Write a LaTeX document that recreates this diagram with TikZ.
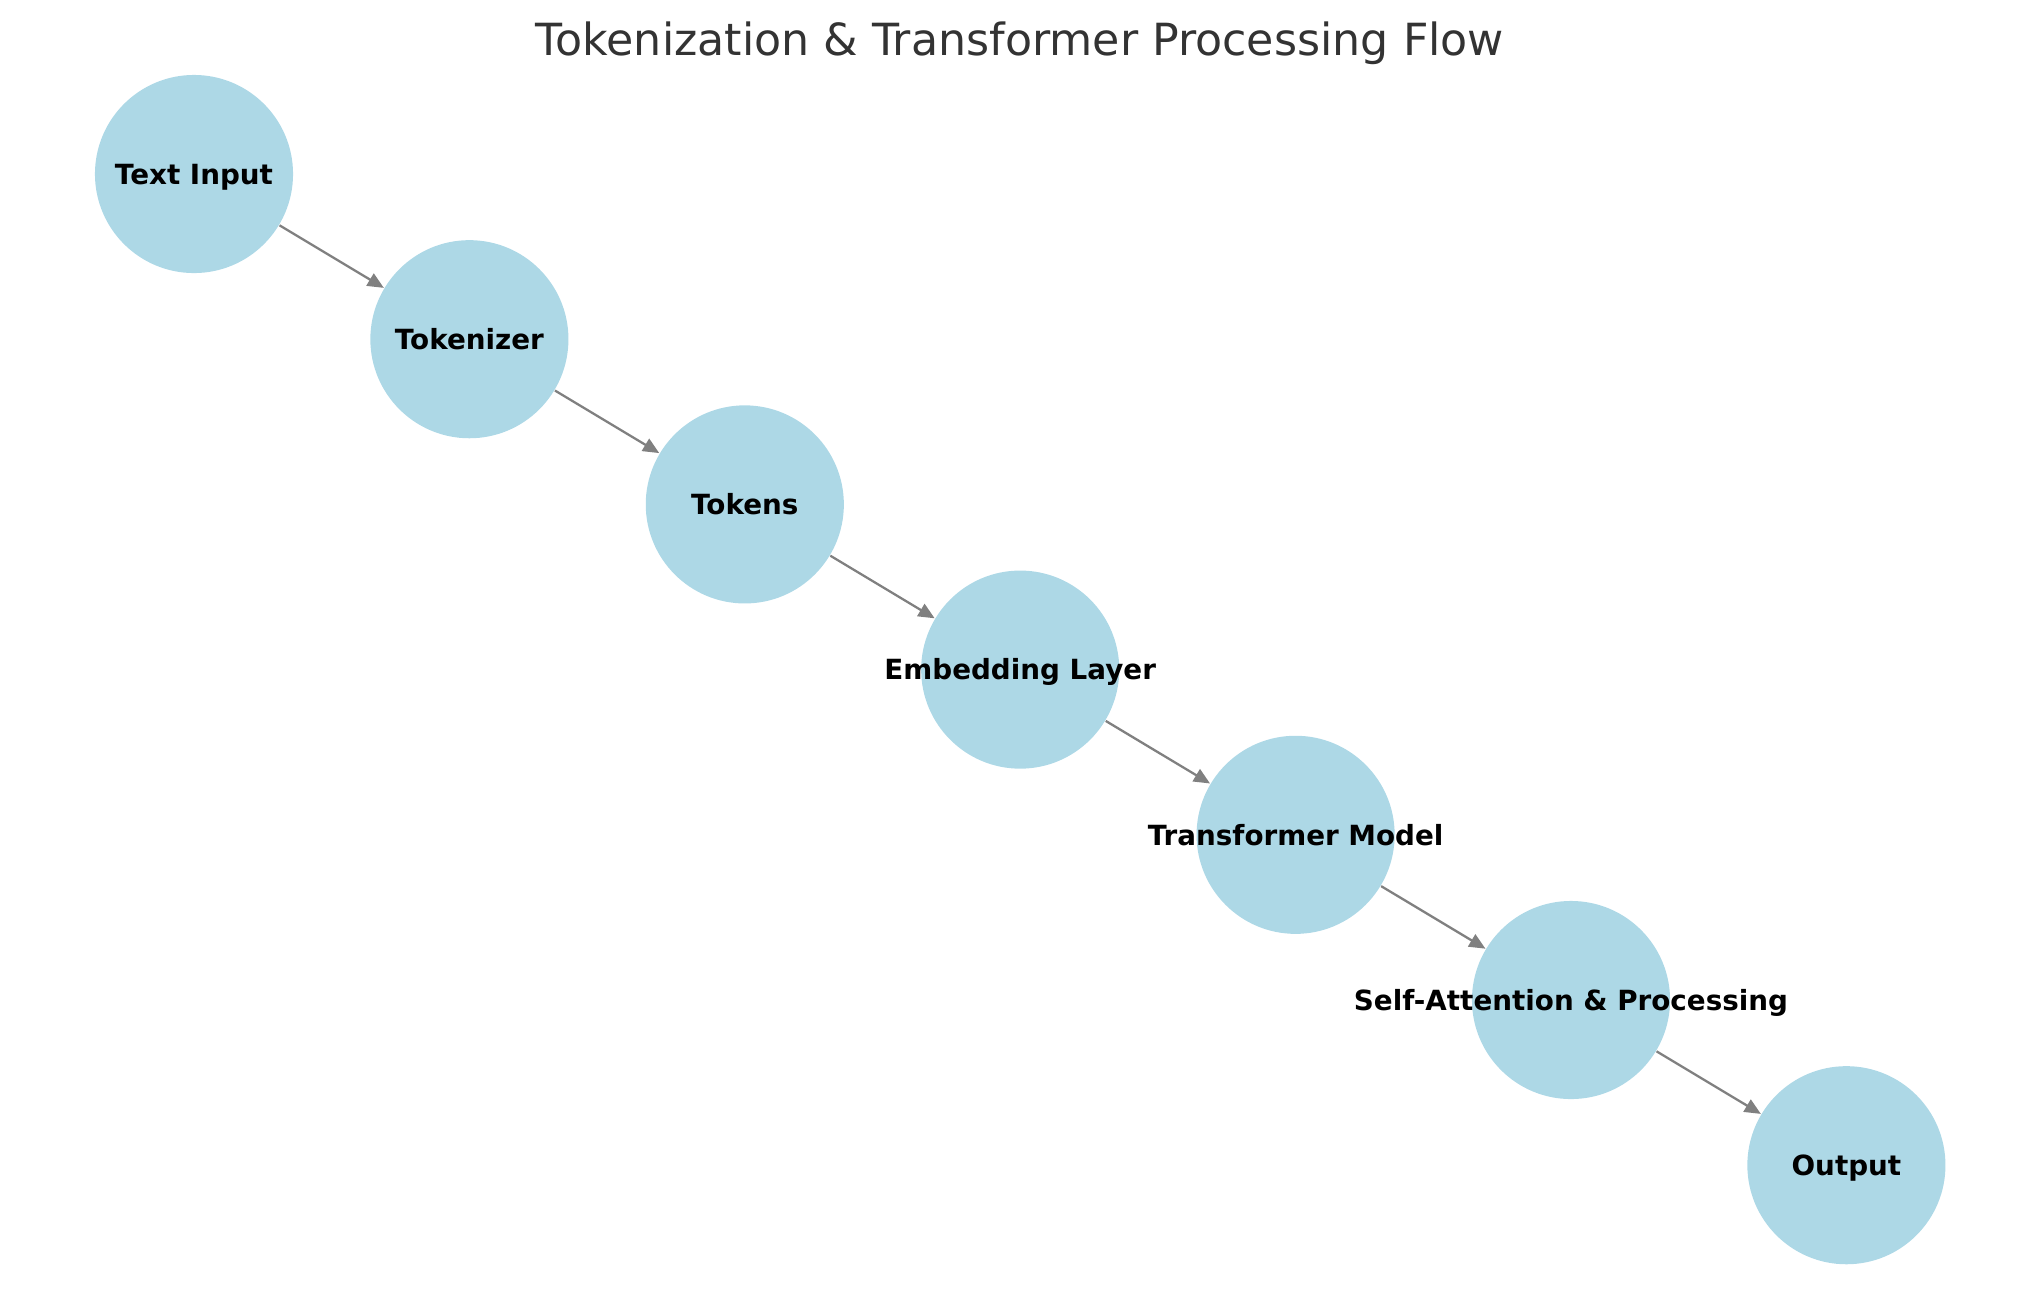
\documentclass[tikz,border=0pt]{standalone}
\usepackage{fontspec}
\setmainfont{DejaVu Sans}
\usetikzlibrary{arrows.meta}
\definecolor{NodeBlue}{HTML}{ADD8E6}
\definecolor{EdgeGray}{HTML}{808080}
\definecolor{TitleGray}{HTML}{333333}

\begin{document}
\begin{tikzpicture}[x=0.01cm,y=-0.01cm,
    stage/.style={circle,fill=NodeBlue,minimum size=1.98cm,inner sep=0pt},
    lbl/.style={font=\fontsize{7.9}{9}\selectfont\bfseries,inner sep=0pt,text height=5.8pt,text depth=0pt},
    flow/.style={-{Triangle[length=4.6pt,width=4pt]},EdgeGray,line width=0.65pt}]
        \useasboundingbox (0,0) rectangle (2039,1290);

        % Title
        \node[anchor=base,font=\fontsize{12.6}{15}\selectfont,text=TitleGray] (title) at (1020,55) {Tokenization \& Transformer Processing Flow};

        % Stages
        \node[stage,label={[lbl]center:Text Input}] (input) at (194,174) {};
        \node[stage,label={[lbl]center:Tokenizer}] (tokenizer) at (469.4,339.2) {};
        \node[stage,label={[lbl]center:Tokens}] (tokens) at (744.8,504.4) {};
        \node[stage,label={[lbl]center:Embedding Layer}] (embed) at (1020.2,669.6) {};
        \node[stage,label={[lbl]center:Transformer Model}] (model) at (1295.6,834.8) {};
        \node[stage,label={[lbl]center:Self-Attention \& Processing}] (attn) at (1571,1000) {};
        \node[stage,label={[lbl]center:Output}] (output) at (1846.4,1165.2) {};

        % Arrows
        \draw[flow] (input) -- (tokenizer);
        \draw[flow] (tokenizer) -- (tokens);
        \draw[flow] (tokens) -- (embed);
        \draw[flow] (embed) -- (model);
        \draw[flow] (model) -- (attn);
        \draw[flow] (attn) -- (output);
\end{tikzpicture}
\end{document}
